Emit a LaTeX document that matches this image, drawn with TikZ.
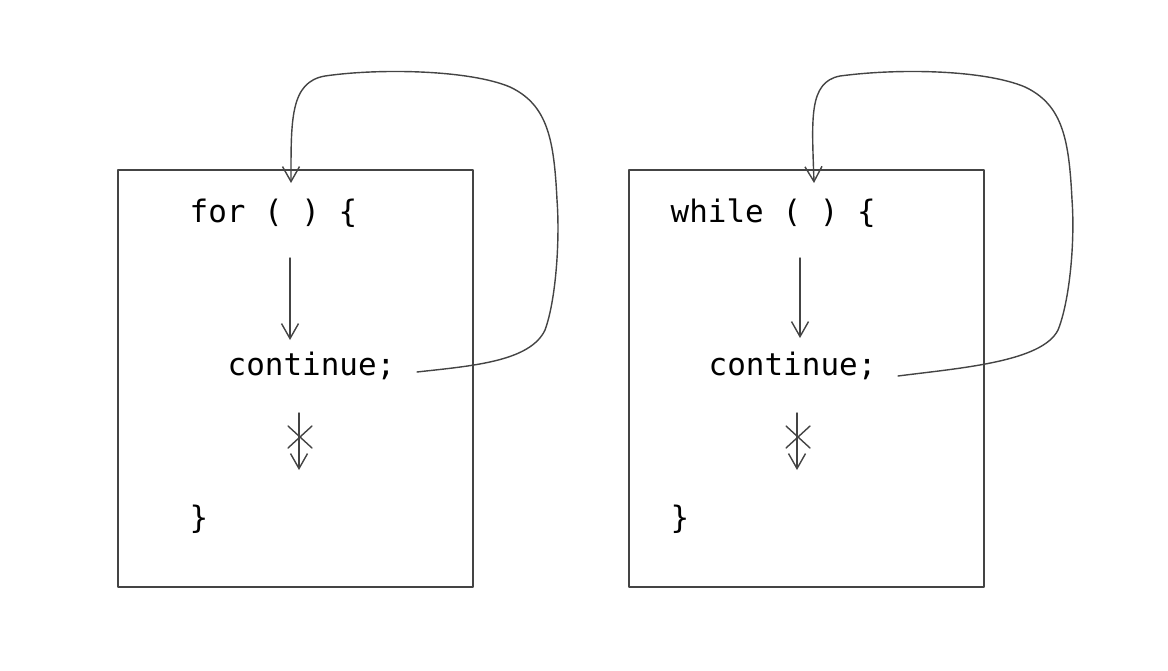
\documentclass[tikz,border=0pt]{standalone}
\usepackage{fontspec}
\setmonofont{DejaVu Sans Mono}
\usetikzlibrary{arrows.meta,calc}
\definecolor{trazo}{HTML}{444444}

\tikzset{
  codigo/.style={font=\ttfamily\fontsize{8.8}{10}\selectfont, text=black, inner sep=0pt},
  caja/.style={draw=trazo, line width=0.4pt},
  flujo/.style={-{Straight Barb[length=1.5mm, width=1.7mm]}, draw=trazo, line width=0.4pt},
  corte/.style={draw=trazo, line width=0.4pt}
}

\begin{document}
\begin{tikzpicture}[x=0.01cm, y=-0.01cm, line cap=round, line join=round]
  \useasboundingbox (0,0) rectangle (1168,670);

  % Bucle for
  \draw[caja] (118,170) rectangle (473,587);
  \node[codigo, anchor=base west] (forA) at (189,222) {for ( ) \{};
  \node[codigo, anchor=base west] (contA) at (227,375) {continue;};
  \node[codigo, anchor=base west] (finA) at (189,528) {\}};
  \coordinate (bajaA1) at (290,258);
  \coordinate (bajaA2) at (290,340);
  \coordinate (saltoA1) at (299,413);
  \coordinate (saltoA2) at (299,470);
  \coordinate (cruceA) at (300,437);
  \coordinate (salidaA) at (417,372);
  \coordinate (entradaA) at (291,183);

  \draw[flujo] (bajaA1) -- (bajaA2);
  \draw[flujo] (saltoA1) -- (saltoA2);
  \draw[corte] ($(cruceA)+(-12,-11)$) -- ($(cruceA)+(12,11)$);
  \draw[corte] ($(cruceA)+(-12,11)$) -- ($(cruceA)+(12,-11)$);
  \draw[flujo] (salidaA) .. controls (470,366) and (530,362) .. (545,330)
    .. controls (556,300) and (560,240) .. (557,200)
    .. controls (554,140) and (548,105) .. (510,87)
    .. controls (470,70) and (380,68) .. (325,76)
    .. controls (290,82) and (291,120) .. (entradaA);

  % Bucle while
  \draw[caja] (629,170) rectangle (984,587);
  \node[codigo, anchor=base west] (whileB) at (670,222) {while ( ) \{};
  \node[codigo, anchor=base west] (contB) at (708,375) {continue;};
  \node[codigo, anchor=base west] (finB) at (670,528) {\}};
  \coordinate (bajaB1) at (800,258);
  \coordinate (bajaB2) at (800,338);
  \coordinate (saltoB1) at (797,413);
  \coordinate (saltoB2) at (797,470);
  \coordinate (cruceB) at (798,437);
  \coordinate (salidaB) at (898,376);
  \coordinate (entradaB) at (814,183);

  \draw[flujo] (bajaB1) -- (bajaB2);
  \draw[flujo] (saltoB1) -- (saltoB2);
  \draw[corte] ($(cruceB)+(-12,-11)$) -- ($(cruceB)+(12,11)$);
  \draw[corte] ($(cruceB)+(-12,11)$) -- ($(cruceB)+(12,-11)$);
  \draw[flujo] (salidaB) .. controls (960,368) and (1042,362) .. (1058,330)
    .. controls (1070,300) and (1075,240) .. (1072,200)
    .. controls (1069,140) and (1063,105) .. (1025,87)
    .. controls (985,70) and (900,68) .. (840,76)
    .. controls (808,82) and (812,120) .. (entradaB);
\end{tikzpicture}
\end{document}
